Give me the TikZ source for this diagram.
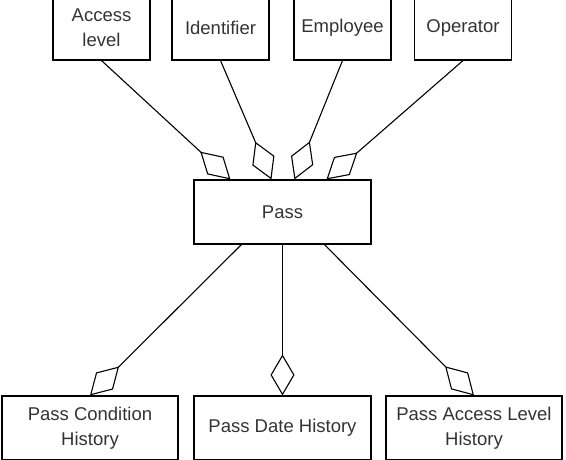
\documentclass[tikz,border=0pt]{standalone}
\usepackage{fontspec}
\setmainfont{Liberation Sans}
\usetikzlibrary{arrows.meta, positioning}
\tikzset{entity/.style={draw, line width=1.1pt, minimum width=97pt, minimum height=64pt,
    align=center, inner sep=2pt, font=\fontsize{18.5}{25}\selectfont, text=black!80},
  wide/.style={entity, minimum width=177pt},
  agg/.style={line width=1.1pt, -{Diamond[open, length=41pt, width=24pt, line width=1.1pt]}}}

\begin{document}
\begin{tikzpicture}[x=1pt, y=-1pt]
    \useasboundingbox (0,0) rectangle (566,459);

    % attributes on top
    \node[entity] (access) at (101.5,28) {Access\\level};
    \node[entity] (ident) at (220.5,28) {Identifier};
    \node[entity] (empl) at (342.5,28) {Employee};
    \node[entity] (oper) at (463,28) {Operator};

    \node[wide] (pass) at (282.5,212) {Pass};

    % histories below
    \node[wide, minimum width=176pt] (condhist) at (90,428) {Pass Condition\\History};
    \node[wide] (datehist) at (282.5,428) {Pass Date History};
    \node[wide, minimum width=176pt] (levelhist) at (474,428) {Pass Access Level\\History};

    \draw[agg] (access.south) -- ([xshift=37pt]pass.north west);
    \draw[agg] (ident.south) -- ([xshift=78pt]pass.north west);
    \draw[agg] (empl.south) -- ([xshift=101pt]pass.north west);
    \draw[agg] (oper.south) -- ([xshift=133pt]pass.north west);

    \draw[agg] ([xshift=48pt]pass.south west) -- (condhist.north);
    \draw[agg] (pass.south) -- (datehist.north);
    \draw[agg] ([xshift=131pt]pass.south west) -- (levelhist.north);
\end{tikzpicture}
\end{document}
